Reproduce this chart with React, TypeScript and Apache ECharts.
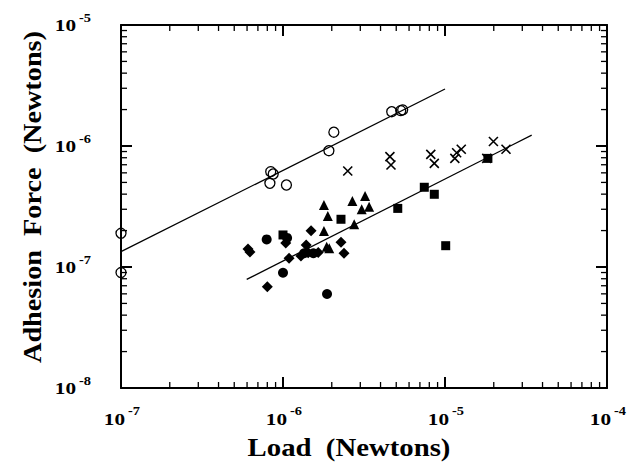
import React, { useEffect, useRef } from "react";
import * as echarts from "echarts";

// ---- data ----
const openCircleLoad = [1e-7, 1e-7, 8.4e-7, 8.7e-7, 8.3e-7, 1.05e-6, 1.92e-6, 2.06e-6, 4.69e-6, 5.33e-6, 5.48e-6];
const openCircleForce = [1.9e-7, 9.0e-8, 6.14e-7, 5.87e-7, 4.92e-7, 4.76e-7, 9.14e-7, 1.3e-6, 1.92e-6, 1.96e-6, 1.99e-6];

const crossLoad = [2.51e-6, 4.57e-6, 4.64e-6, 8.17e-6, 8.59e-6, 1.15e-5, 1.18e-5, 1.26e-5, 1.99e-5, 2.38e-5, 1.81e-5];
const crossForce = [6.21e-7, 8.17e-7, 6.97e-7, 8.53e-7, 7.19e-7, 7.9e-7, 8.8e-7, 9.4e-7, 1.09e-6, 9.4e-7, 7.9e-7];

const squareLoad = [1.0e-6, 2.28e-6, 5.11e-6, 7.45e-6, 8.59e-6, 1.01e-5, 1.84e-5];
const squareForce = [1.84e-7, 2.48e-7, 3.05e-7, 4.56e-7, 3.99e-7, 1.5e-7, 7.9e-7];

const triangleLoad = [1.79e-6, 1.89e-6, 1.79e-6, 2.68e-6, 3.21e-6, 3.06e-6, 3.4e-6, 2.75e-6, 1.86e-6, 1.93e-6];
const triangleForce = [3.25e-7, 2.64e-7, 1.98e-7, 3.51e-7, 3.86e-7, 3.0e-7, 3.15e-7, 2.26e-7, 1.47e-7, 1.43e-7];

const diamondLoad = [6.08e-7, 6.25e-7, 8.0e-7, 1.09e-6, 1.49e-6, 1.39e-6, 2.28e-6, 2.38e-6, 1.04e-6, 1.29e-6, 1.43e-6, 1.65e-6];
const diamondForce = [1.41e-7, 1.33e-7, 6.87e-8, 1.18e-7, 1.99e-7, 1.52e-7, 1.6e-7, 1.3e-7, 1.58e-7, 1.23e-7, 1.31e-7, 1.32e-7];

const filledCircleLoad = [7.93e-7, 1.0e-6, 1.87e-6, 1.06e-6, 1.54e-6, 1.35e-6];
const filledCircleForce = [1.69e-7, 8.97e-8, 5.98e-8, 1.74e-7, 1.3e-7, 1.3e-7];

const upperFitLoad = [1e-7, 1e-5];
const upperFitForce = [1.338e-7, 2.96e-6];
const lowerFitLoad = [5.97e-7, 3.43e-5];
const lowerFitForce = [7.9e-8, 1.23e-6];

const xExponents = [-7, -6, -5, -4];
const yExponents = [-8, -7, -6, -5];

const pairs = (xs: number[], ys: number[]) => xs.map((x, i) => [x, ys[i]]);

const FONT = "'Liberation Serif', 'Times New Roman', serif";
const BASE_FONT = `bold 17px ${FONT}`;
const SUP_FONT = `bold 12px ${FONT}`;

const logTicks = (exps: number[]) => {
  const out: number[] = [];
  for (let k = 0; k < exps.length - 1; k++) {
    for (let m = 1; m <= 9; m++) {
      if (k === 0 && m === 1) continue;
      out.push(m * Math.pow(10, exps[k]));
    }
  }
  return out;
};

const supText = (v: number) => `-${Math.abs(Math.round(Math.log10(v)))}`;

export default function App() {
  const ref = useRef<HTMLDivElement>(null);
  useEffect(() => {
    if (!ref.current) return;
    const chart = echarts.init(ref.current, null, { renderer: "svg" });

    const tickRender = (dir: "x" | "y") => (params: any, api: any) => {
      const cs = params.coordSys;
      const v = api.value(dir === "x" ? 0 : 1);
      const l = Math.log10(v);
      const major = Math.abs(l - Math.round(l)) < 1e-6;
      const len = major ? 11 : 6;
      const w = major ? 2 : 1.3;
      const st = { stroke: "#000", lineWidth: w };
      if (dir === "x") {
        const px = api.coord([v, 1e-7])[0];
        const b = cs.y + cs.height;
        return {
          type: "group",
          children: [
            { type: "line", shape: { x1: px, y1: b, x2: px, y2: b - len }, style: st },
            { type: "line", shape: { x1: px, y1: cs.y, x2: px, y2: cs.y + len }, style: st },
          ],
        };
      }
      const py = api.coord([1e-6, v])[1];
      const r = cs.x + cs.width;
      return {
        type: "group",
        children: [
          { type: "line", shape: { x1: cs.x, y1: py, x2: cs.x + len, y2: py }, style: st },
          { type: "line", shape: { x1: r, y1: py, x2: r - len, y2: py }, style: st },
        ],
      };
    };

    const labelRender = (dir: "x" | "y") => (params: any, api: any) => {
      const cs = params.coordSys;
      const v = api.value(dir === "x" ? 0 : 1);
      let bx: number, by: number, sx: number, sy: number;
      if (dir === "x") {
        const px = api.coord([v, 1e-8])[0];
        const b = cs.y + cs.height;
        bx = px + 4;
        by = b + 31;
        sx = px + 7;
        sy = b + 23;
      } else {
        const py = api.coord([1e-7, v])[1];
        bx = cs.x - 45;
        by = py;
        sx = cs.x - 42;
        sy = py - 7;
      }
      return {
        type: "group",
        children: [
          {
            type: "text",
            x: bx,
            y: by,
            scaleX: 1.25,
            style: { text: "10", font: BASE_FONT, fill: "#000", align: "right", verticalAlign: "middle" },
          },
          {
            type: "text",
            x: sx,
            y: sy,
            scaleX: 1.2,
            style: { text: supText(v), font: SUP_FONT, fill: "#000", align: "left", verticalAlign: "middle" },
          },
        ],
      };
    };

    const axisCommon = {
      type: "log",
      logBase: 10,
      axisLine: { show: true, lineStyle: { color: "#000", width: 2 } },
      axisTick: { show: false },
      axisLabel: { show: false },
      splitLine: { show: false },
      minorTick: { show: false },
    };

    const solid = { color: "#000", opacity: 1 };
    const xMin = Math.pow(10, xExponents[0]);
    const xMax = Math.pow(10, xExponents[xExponents.length - 1]);
    const yMin = Math.pow(10, yExponents[0]);
    const yMax = Math.pow(10, yExponents[yExponents.length - 1]);

    const option: any = {
      animation: false,
      backgroundColor: "#fff",
      grid: { left: 121, right: 24, top: 25, bottom: 75, containLabel: false },
      xAxis: [
        { ...axisCommon, min: xMin, max: xMax, position: "bottom" },
        { ...axisCommon, min: xMin, max: xMax, position: "top" },
      ],
      yAxis: [
        { ...axisCommon, min: yMin, max: yMax, position: "left" },
        { ...axisCommon, min: yMin, max: yMax, position: "right" },
      ],
      graphic: [
        {
          type: "text",
          x: 349,
          y: 448,
          scaleX: 1.15,
          style: { text: "Load  (Newtons)", font: `bold 25px ${FONT}`, fill: "#000", align: "center", verticalAlign: "middle" },
        },
        {
          type: "text",
          x: 33,
          y: 197,
          rotation: Math.PI / 2,
          scaleX: 1.13,
          style: { text: "Adhesion  Force  (Newtons)", font: `bold 25px ${FONT}`, fill: "#000", align: "center", verticalAlign: "middle" },
        },
      ],
      series: [
        {
          type: "custom",
          silent: true,
          renderItem: tickRender("x"),
          data: logTicks(xExponents).map((v) => [v, 1e-7]),
          z: 5,
        },
        {
          type: "custom",
          silent: true,
          renderItem: tickRender("y"),
          data: logTicks(yExponents).map((v) => [1e-6, v]),
          z: 5,
        },
        {
          type: "custom",
          silent: true,
          clip: false,
          renderItem: labelRender("x"),
          data: xExponents.map((e) => [Math.pow(10, e), 1e-8]),
        },
        {
          type: "custom",
          silent: true,
          clip: false,
          renderItem: labelRender("y"),
          data: yExponents.map((e) => [1e-7, Math.pow(10, e)]),
        },
        {
          type: "line",
          data: pairs(upperFitLoad, upperFitForce),
          symbol: "none",
          lineStyle: { color: "#000", width: 1.3 },
          silent: true,
        },
        {
          type: "line",
          data: pairs(lowerFitLoad, lowerFitForce),
          symbol: "none",
          lineStyle: { color: "#000", width: 1.3 },
          silent: true,
        },
        {
          type: "scatter",
          data: pairs(openCircleLoad, openCircleForce),
          symbol: "circle",
          symbolSize: 10,
          itemStyle: { color: "transparent", borderColor: "#000", borderWidth: 1.3, opacity: 1 },
          clip: false,
        },
        {
          type: "scatter",
          data: pairs(crossLoad, crossForce),
          symbol: "path://M0,0L10,10M0,10L10,0",
          symbolSize: 9,
          itemStyle: { color: "transparent", borderColor: "#000", borderWidth: 1.6, opacity: 1 },
        },
        {
          type: "scatter",
          data: pairs(squareLoad, squareForce),
          symbol: "rect",
          symbolSize: 9,
          itemStyle: solid,
        },
        {
          type: "scatter",
          data: pairs(triangleLoad, triangleForce),
          symbol: "triangle",
          symbolSize: 10,
          itemStyle: solid,
        },
        {
          type: "scatter",
          data: pairs(diamondLoad, diamondForce),
          symbol: "path://M5,0L10,5L5,10L0,5Z",
          symbolSize: 11,
          itemStyle: solid,
        },
        {
          type: "scatter",
          data: pairs(filledCircleLoad, filledCircleForce),
          symbol: "circle",
          symbolSize: 10,
          itemStyle: solid,
        },
      ],
    };
    chart.setOption(option);
    return () => chart.dispose();
  }, []);
  return <div ref={ref} style={{ position: "fixed", left: 0, top: 0, width: 631, height: 463, background: "#fff" }} />;
}
